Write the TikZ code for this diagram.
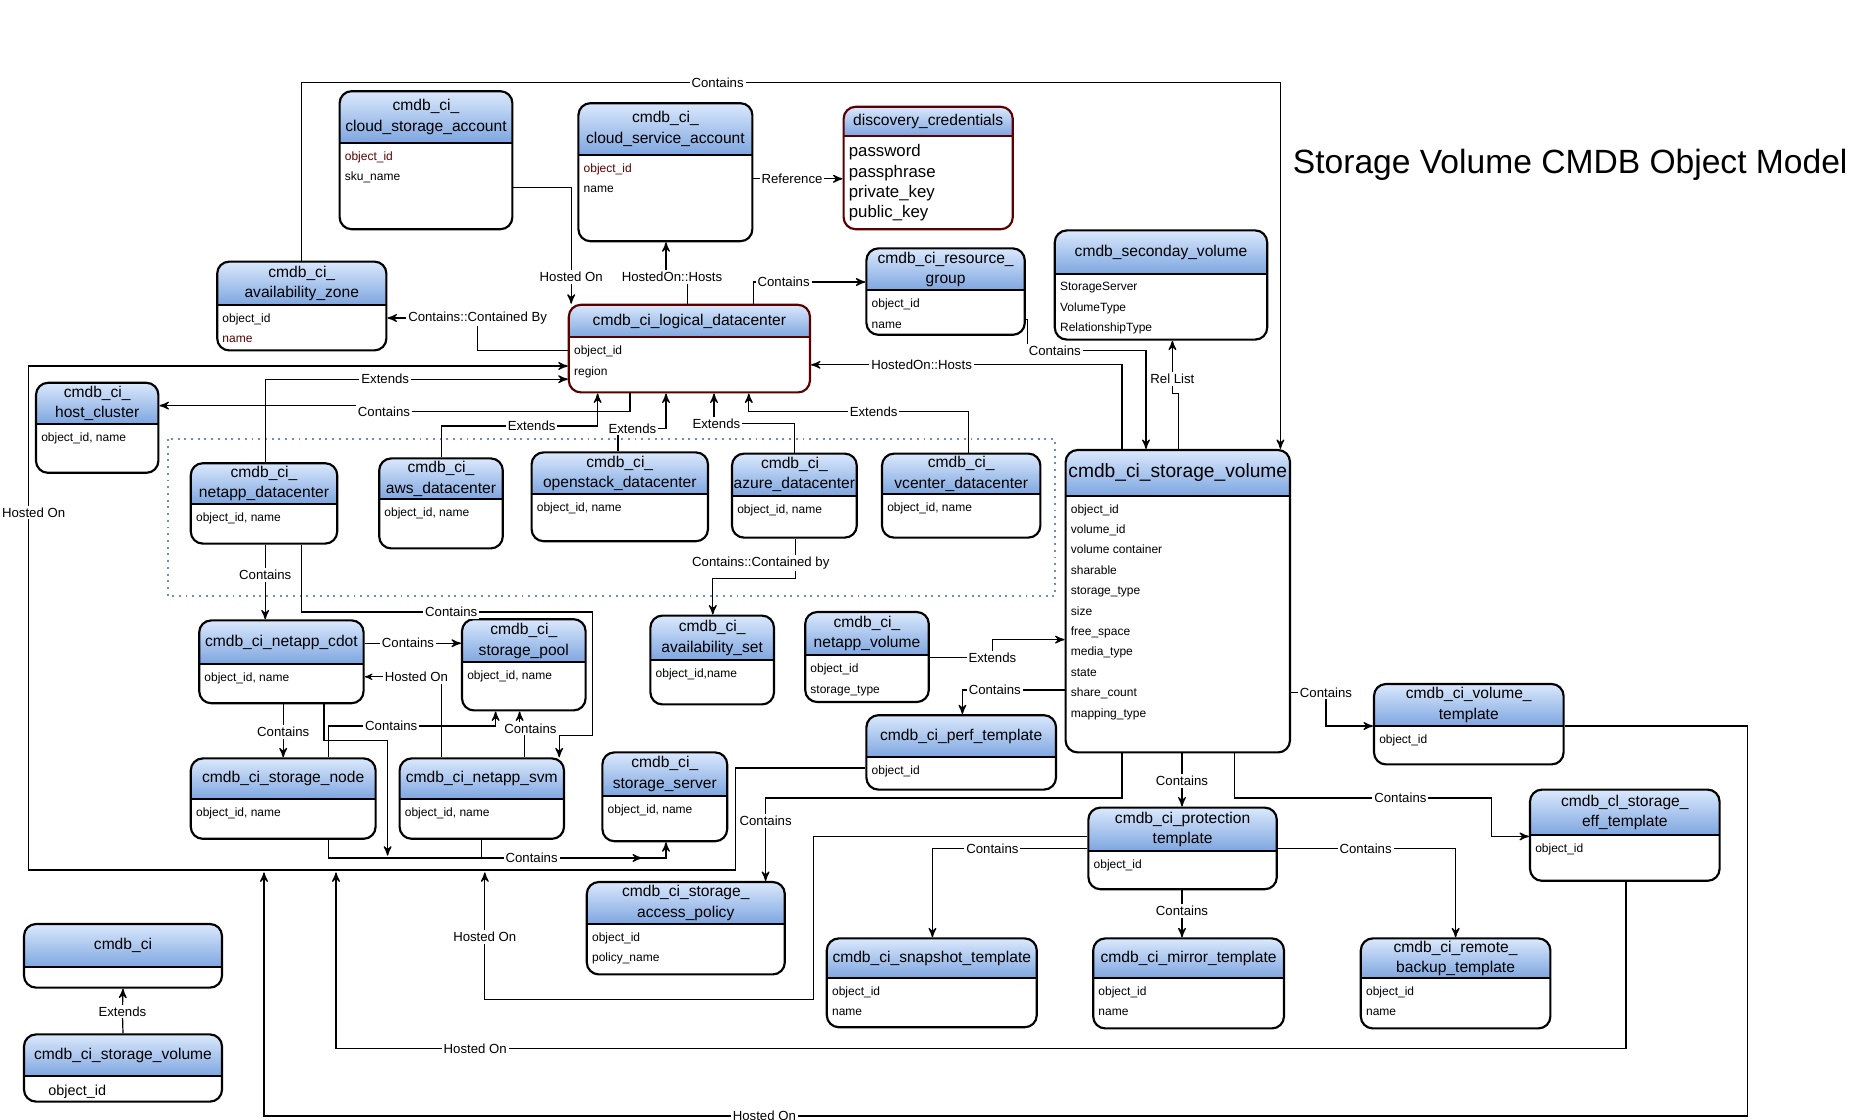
\documentclass[tikz,border=0pt]{standalone}
\usepackage{fontspec}
\setmainfont{Liberation Sans}
\usetikzlibrary{arrows}

\definecolor{hdtop}{RGB}{218,232,252}
\definecolor{hdbot}{RGB}{126,166,224}
\definecolor{dred}{RGB}{90,0,0}
\definecolor{dotblue}{RGB}{108,142,191}

\tikzset{
  entity/.style={draw, line width=0.9pt, rounded corners=5pt, inner sep=0pt},
  ttl/.style={font=\fontsize{6.5}{8.5}\selectfont, align=center, inner sep=0pt},
  fld/.style={font=\fontsize{5}{8.5}\selectfont, align=left, inner xsep=2pt, inner ysep=3.5pt, anchor=north west},
  lbl/.style={font=\fontsize{5.5}{6}\selectfont, fill=white, inner sep=0.8pt},
  conn/.style={->, >=stealth', line width=0.5pt}
}
\newcommand{\bigf}{\fontsize{7}{8.5}\selectfont}

% [style] name, left, top, right, bottom, header line, title, fields
\newcommand{\ent}[9][]{%
  \begin{scope}
    \clip[rounded corners=5pt] (#3,#4) rectangle (#5,#6);
    \shade[top color=hdtop, bottom color=hdbot] (#3,#4) rectangle (#5,#7);
  \end{scope}
  \draw[line width=0.9pt,#1] (#3,#7) -- (#5,#7);
  \node[entity,#1, minimum width={(#5-#3)*0.5pt}, minimum height={(#6-#4)*0.5pt}]
    (#2) at ({(#3+#5)/2},{(#4+#6)/2}) {};
  \node[ttl] at ({(#3+#5)/2},{(#4+#7)/2}) {#8};
  \node[fld] at (#3,#7) {#9};
}

\begin{document}
\begin{tikzpicture}[x=0.5pt, y=-0.5pt]
  \useasboundingbox (0,0) rectangle (1560,933.3);

  \draw[dotblue, dotted, line width=0.8pt] (140,366) rectangle (879,497);

  \ent{csa}{283}{76}{427}{191}{119}{cmdb\_ci\_\\cloud\_storage\_account}{\textcolor{dred}{object\_id}\\sku\_name}
  \ent{csvc}{482}{86}{627}{201}{129}{cmdb\_ci\_\\cloud\_service\_account}{\textcolor{dred}{object\_id}\\name}
  \ent[draw=dred]{cred}{703}{89}{844}{191}{113}{discovery\_credentials}{\bigf password\\\bigf passphrase\\\bigf private\_key\\\bigf public\_key}
  \ent{az}{181}{218}{322}{292}{254}{cmdb\_ci\_\\availability\_zone}{object\_id\\\textcolor{dred}{name}}
  \ent[draw=dred]{ldc}{474}{254}{675}{327}{281}{cmdb\_ci\_logical\_datacenter}{object\_id\\region}
  \ent{rg}{722}{207}{854}{279}{242}{cmdb\_ci\_resource\_\\group}{object\_id\\name}
  \ent{sec}{879}{192}{1056}{283}{228}{cmdb\_seconday\_volume}{StorageServer\\VolumeType\\RelationshipType}
  \ent{hc}{30}{319}{132}{394}{353}{cmdb\_ci\_\\host\_cluster}{object\_id, name}
  \ent{ndc}{159}{386}{281}{453}{420}{cmdb\_ci\_\\netapp\_datacenter}{object\_id, name}
  \ent{aws}{316}{382}{419}{457}{416}{cmdb\_ci\_\\aws\_datacenter}{object\_id, name}
  \ent{ost}{443}{377}{590}{451}{412}{cmdb\_ci\_\\openstack\_datacenter}{object\_id, name}
  \ent{azr}{610}{378}{714}{448}{413}{cmdb\_ci\_\\azure\_datacenter}{object\_id, name}
  \ent{vc}{735}{378}{867}{448}{412}{cmdb\_ci\_\\vcenter\_datacenter}{object\_id, name}
  \ent{sv}{888}{375}{1075}{627}{413}{\fontsize{8}{9}\selectfont cmdb\_ci\_storage\_volume}{object\_id\\volume\_id\\volume container\\sharable\\storage\_type\\size\\free\_space\\media\_type\\state\\share\_count\\mapping\_type}
  \ent{cdot}{166}{517}{303}{586}{553}{cmdb\_ci\_netapp\_cdot}{object\_id, name}
  \ent{pool}{385}{516}{488}{592}{552}{cmdb\_ci\_\\storage\_pool}{object\_id, name}
  \ent{aset}{542}{513}{645}{587}{550}{cmdb\_ci\_\\availability\_set}{object\_id,name}
  \ent{nvol}{671}{510}{774}{585}{546}{cmdb\_ci\_\\netapp\_volume}{object\_id\\storage\_type}
  \ent{perf}{722}{596}{880}{658}{631}{cmdb\_ci\_perf\_template}{object\_id}
  \ent{vtpl}{1145}{570}{1303}{637}{605}{cmdb\_ci\_volume\_\\template}{object\_id}
  \ent{snode}{159}{632}{313}{699}{666}{cmdb\_ci\_storage\_node}{object\_id, name}
  \ent{svm}{333}{632}{470}{699}{666}{cmdb\_ci\_netapp\_svm}{object\_id, name}
  \ent{ssrv}{502}{627}{606}{701}{663}{cmdb\_ci\_\\storage\_server}{object\_id, name}
  \ent{prot}{907}{673}{1064}{741}{709}{cmdb\_ci\_protection\\template}{object\_id}
  \ent{eff}{1275}{658}{1433}{734}{696}{cmdb\_cl\_storage\_\\eff\_template}{object\_id}
  \ent{sap}{489}{735}{654}{812}{770}{cmdb\_ci\_storage\_\\access\_policy}{object\_id\\policy\_name}
  \ent{snap}{689}{782}{864}{856}{815}{cmdb\_ci\_snapshot\_template}{object\_id\\name}
  \ent{mirr}{911}{782}{1070}{857}{815}{cmdb\_ci\_mirror\_template}{object\_id\\name}
  \ent{rbk}{1134}{782}{1292}{857}{815}{cmdb\_ci\_remote\_\\backup\_template}{object\_id\\name}
  \ent{ci}{20}{770}{185}{823}{806}{cmdb\_ci}{}
  \ent{lsv}{20}{862}{185}{918}{897}{cmdb\_ci\_storage\_volume}{\fontsize{6}{8.5}\selectfont\hspace{8pt}object\_id}

  \node[font=\fontsize{14}{17}\selectfont, anchor=west, inner sep=0pt] (title) at (1077,137) {Storage Volume CMDB Object Model};

  \coordinate (hb1) at (220,727);
  \coordinate (hb2) at (280,727);
  \coordinate (hb3) at (404,727);
  \coordinate (cj) at (323,713);
  \coordinate (sj) at (535,715);

  \draw[conn] (az.north) -- (251.5,69) -- (598,69) node[lbl]{Contains} -- (1067,69) -- (sv.north -| 1067,0);
  \draw[conn] (csa.east |- 0,156) -- (476,156) -- (476,231) node[lbl]{Hosted On} -- (ldc.north -| 476,0);
  \draw[conn] (ldc.north -| 573,0) -- (573,231) -- (560,231) node[lbl]{HostedOn::Hosts} -- (555,231) -- (csvc.south -| 555,0);
  \draw[conn] (csvc.east |- 0,149) -- (660,149) node[lbl]{Reference} -- (cred.west |- 0,149);
  \draw[conn] (ldc.north -| 628,0) -- (628,235) -- (653,235) node[lbl]{Contains} -- (rg.west |- 0,235);
  \draw[conn] (ldc.west |- 0,292) -- (398,292) -- (398,265) node[lbl]{Contains::Contained By} -- (az.east |- 0,265);
  \draw[conn] (perf.west |- 0,640) -- (613,640) -- (613,725) -- (24,725) -- (24,305) -- (ldc.west |- 0,305);
  \node[lbl] at (28,427) {Hosted On};
  \draw[conn] (ndc.north -| 221,0) -- (221,316) -- (321,316) node[lbl]{Extends} -- (ldc.west |- 0,316);
  \draw[conn] (ldc.south -| 525,0) -- (525,343) -- (320,343) node[lbl]{Contains} -- (300,343) -- (300,338) -- (hc.east |- 0,338);
  \draw[conn] (aws.north -| 368,0) -- (368,355) -- (443,355) node[lbl]{Extends} -- (498,355) -- (ldc.south -| 498,0);
  \draw[conn] (ost.north -| 515,0) -- (515,357) -- (527,357) node[lbl]{Extends} -- (555,357) -- (ldc.south -| 555,0);
  \draw[conn] (azr.north -| 662,0) -- (662,353) -- (597,353) node[lbl]{Extends} -- (595,353) -- (ldc.south -| 595,0);
  \draw[conn] (vc.north -| 807,0) -- (807,343) -- (728,343) node[lbl]{Extends} -- (624,343) -- (ldc.south -| 624,0);
  \draw[conn] (sv.north -| 935,0) -- (935,304) -- (768,304) node[lbl]{HostedOn::Hosts} -- (ldc.east |- 0,304);
  \draw[conn] (rg.east |- 0,266) -- (856,266) -- (856,292) -- (879,292) node[lbl]{Contains} -- (955,292) -- (sv.north -| 955,0);
  \draw[conn] (sv.north -| 982,0) -- (982,328) -- (977,328) -- (977,316) node[lbl]{Rel List} -- (sec.south -| 977,0);
  \draw[conn] (azr.south -| 663,0) -- (663,482) -- (594,482) -- (aset.north -| 594,0);
  \node[lbl] at (634,469) {Contains::Contained by};
  \draw[conn] (ndc.south -| 221,0) -- (221,479) node[lbl]{Contains} -- (cdot.north -| 221,0);
  \draw[conn] (ndc.south -| 251,0) -- (251,510) -- (376,510) node[lbl]{Contains} -- (494,510) -- (494,613) -- (466,613) -- (svm.north -| 466,0);
  \draw[conn] (cdot.east |- 0,536) -- (340,536) node[lbl]{Contains} -- (pool.west |- 0,536);
  \draw[conn, line width=0.3pt] (svm.north -| 368,0) -- (368,564) -- (347,564) node[lbl]{Hosted On} -- (cdot.east |- 0,564);
  \draw[conn] (cdot.south -| 236,0) -- (236,610) node[lbl]{Contains} -- (snode.north -| 236,0);
  \draw[conn] (snode.north -| 274,0) -- (274,605) -- (326,605) node[lbl]{Contains} -- (413,605) -- (pool.south -| 413,0);
  \draw[conn] (svm.north -| 437,0) -- (437,611) -- (433,611) -- (pool.south -| 433,0);
  \node[lbl] at (442,607) {Contains};
  \draw[conn] (cdot.south -| 270,0) -- (270,617) -- (323,617) -- (cj);
  \draw[conn] (snode.south -| 274,0) -- (274,715) -- (sj);
  \draw[conn] (svm.south -| 401,0) -- (401,715) -- (443,715) node[lbl]{Contains} -- (555,715) -- (ssrv.south -| 555,0);
  \draw[conn] (nvol.east |- 0,548) -- (827,548) node[lbl]{Extends} -- (827,533) -- (sv.west |- 0,533);
  \draw[conn] (sv.west |- 0,575) -- (829,575) node[lbl]{Contains} -- (802,575) -- (perf.north -| 802,0);
  \draw[conn] (sv.south -| 935,0) -- (935,665) -- (638,665) -- (638,684) node[lbl]{Contains} -- (sap.north -| 638,0);
  \draw[conn] (sv.south -| 985,0) -- (985,651) node[lbl]{Contains} -- (prot.north -| 985,0);
  \draw[conn] (sv.south -| 1029,0) -- (1029,665) -- (1167,665) node[lbl]{Contains} -- (1243,665) -- (1243,697) -- (eff.west |- 0,697);
  \draw[conn] (sv.east |- 0,577) -- (1105,577) node[lbl]{Contains} -- (1105,605) -- (vtpl.west |- 0,605);
  \draw[conn] (vtpl.east |- 0,605) -- (1456,605) -- (1456,930) -- (637,930) node[lbl]{Hosted On} -- (220,930) -- (hb1);
  \draw[conn] (eff.south -| 1355,0) -- (1355,874) -- (396,874) node[lbl]{Hosted On} -- (280,874) -- (hb2);
  \draw[conn] (prot.west |- 0,707) -- (827,707) node[lbl]{Contains} -- (777,707) -- (snap.north -| 777,0);
  \draw[conn] (prot.west |- 0,697) -- (678,697) -- (678,833) -- (404,833) -- (404,781) node[lbl]{Hosted On} -- (hb3);
  \draw[conn] (prot.south -| 985,0) -- (985,759) node[lbl]{Contains} -- (mirr.north -| 985,0);
  \draw[conn] (prot.east |- 0,707) -- (1138,707) node[lbl]{Contains} -- (1213,707) -- (rbk.north -| 1213,0);
  \draw[conn] (lsv.north) -- (102,843) node[lbl]{Extends} -- (ci.south);
\end{tikzpicture}
\end{document}
